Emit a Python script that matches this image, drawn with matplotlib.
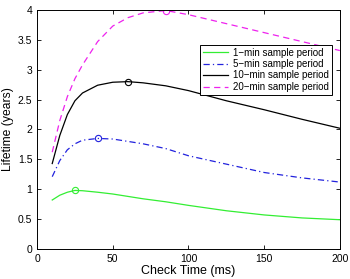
import matplotlib
matplotlib.use('Agg')
import matplotlib.pyplot as plt

# 数据
check_time = [10, 15, 20, 25, 30, 40, 50, 60, 70, 85, 100, 125, 150, 175, 200]
life_1min = [0.82, 0.90, 0.95, 0.98, 0.975, 0.95, 0.92, 0.88, 0.84, 0.79, 0.73, 0.64, 0.57, 0.52, 0.49]
life_5min = [1.21, 1.48, 1.66, 1.76, 1.82, 1.85, 1.84, 1.80, 1.76, 1.68, 1.56, 1.42, 1.28, 1.19, 1.12]
life_10min = [1.43, 1.90, 2.25, 2.48, 2.61, 2.74, 2.79, 2.80, 2.78, 2.73, 2.65, 2.48, 2.33, 2.17, 2.02]
life_20min = [1.62, 2.15, 2.55, 2.85, 3.08, 3.47, 3.73, 3.87, 3.95, 3.99, 3.92, 3.77, 3.62, 3.47, 3.32]
labels = ['1\u2212min sample period', '5\u2212min sample period',
          '10\u2212min sample period', '20\u2212min sample period']
# 最优点
opt_x = [25, 40, 60, 85]
opt_y = [0.98, 1.85, 2.80, 3.99]

plt.rcParams['font.family'] = ['Liberation Sans', 'DejaVu Sans']
fig = plt.figure(figsize=(3.5, 2.79), dpi=100)
ax = fig.add_axes([0.106, 0.1075, 0.865, 0.857])

colors = ['#33ee33', '#2222dd', 'black', '#ee22ee']
styles = ['-', (0, (5, 2.5, 1, 2.5)), '-', (0, (5, 3.5))]
series = [life_1min, life_5min, life_10min, life_20min]
for s, c, ls, lb in zip(series, colors, styles, labels):
    ax.plot(check_time, s, color=c, linestyle=ls, lw=0.9, label=lb)
for x, y, c in zip(opt_x, opt_y, colors):
    ax.plot(x, y, 'o', mfc='none', mec=c, ms=4.5, mew=0.8)

ax.set_xlim(0, 200)
ax.set_ylim(0, 4)
ax.set_xticks([0, 50, 100, 150, 200])
ax.set_yticks([0, 0.5, 1, 1.5, 2, 2.5, 3, 3.5, 4])
ax.set_yticklabels(['0', '0.5', '1', '1.5', '2', '2.5', '3', '3.5', '4'])
ax.tick_params(direction='in', top=True, right=True, labelsize=7.5, length=3, width=0.6)
for sp in ax.spines.values():
    sp.set_linewidth(0.7)
ax.set_xlabel('Check Time (ms)', fontsize=9, labelpad=1)
ax.set_ylabel('Lifetime (years)', fontsize=8.7, labelpad=3)

leg = ax.legend(loc='upper right', bbox_to_anchor=(0.99, 0.875), fontsize=7.0,
                fancybox=False, edgecolor='black', framealpha=1,
                handlelength=2.6, borderpad=0.3, labelspacing=0.15, handletextpad=0.5)
leg.get_frame().set_linewidth(0.7)

plt.savefig('out.png', dpi=100)
